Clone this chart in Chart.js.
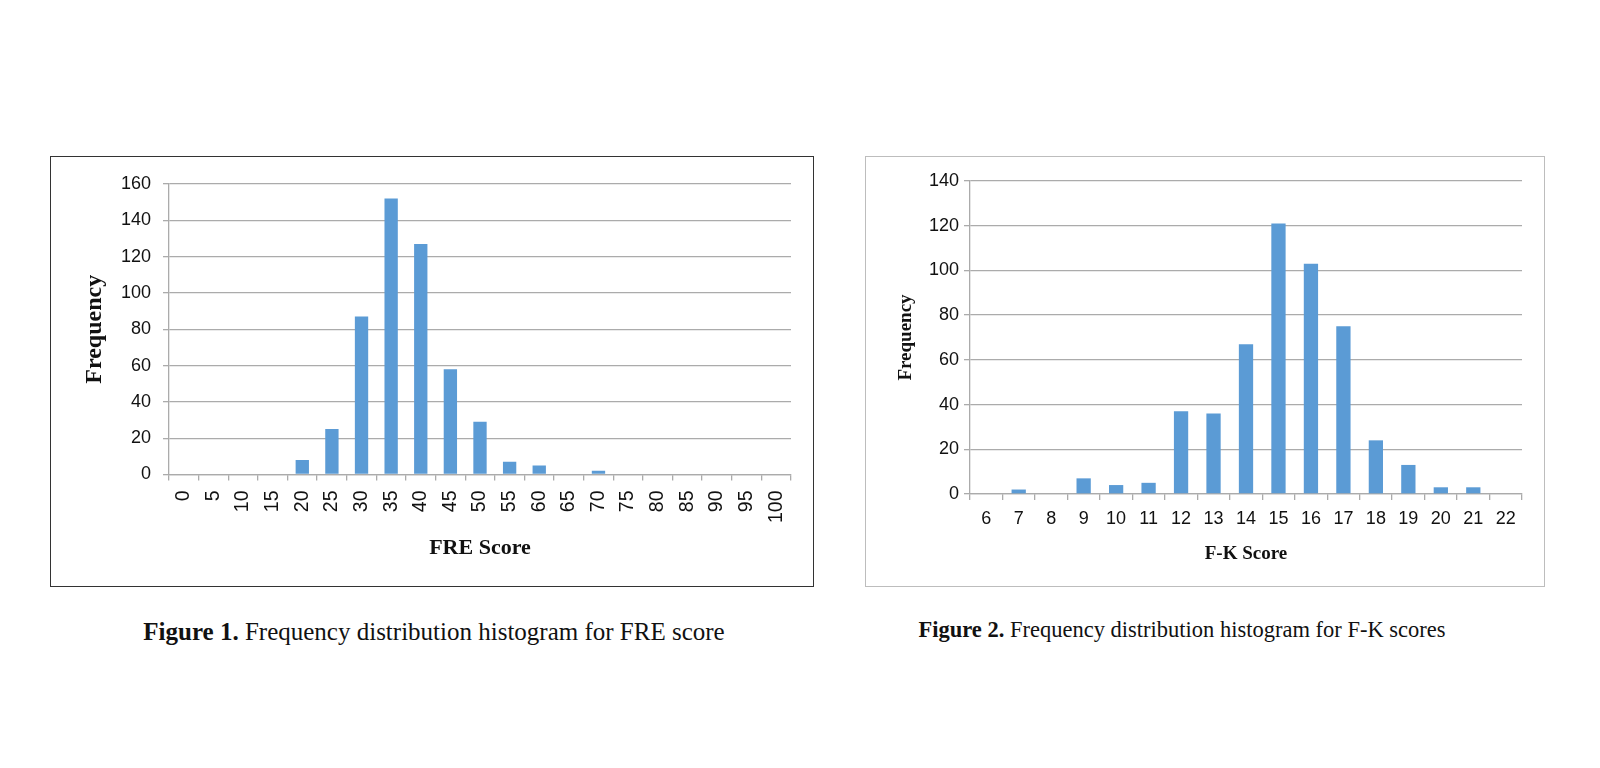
<!DOCTYPE html>
<html lang="en">
<head>
    <meta charset="UTF-8">
    <title>Frequency distribution histograms</title>
    <script src="https://cdn.jsdelivr.net/npm/chart.js@4.4.8/dist/chart.umd.min.js"></script>
    <style>
        body { margin: 0; width: 1600px; height: 768px; background: #fff; position: relative; overflow: hidden; }
        .box { position: absolute; box-sizing: border-box; background: #fff; }
        #box1 { left: 50px; top: 156px; width: 764px; height: 431px; border: 1.5px solid #333; }
        #box2 { left: 865px; top: 156px; width: 680px; height: 431px; border: 1px solid #bdbdbd; }
        .box canvas { position: absolute; left: 0; top: 0; }
        .caption { position: absolute; font-family: "Liberation Serif", "Times New Roman", serif; color: #111; white-space: nowrap; transform: translate(-50%, -50%); }
        .caption b { font-weight: bold; }
    </style>
</head>
<body>
    <div class="box" id="box1"><canvas id="fre" width="762" height="429"></canvas></div>
    <div class="box" id="box2"><canvas id="fk" width="678" height="429"></canvas></div>

    <div class="caption" style="left:434px; top:632px; font-size:25px;"><b>Figure 1.</b> Frequency distribution histogram for FRE score</div>
    <div class="caption" style="left:1182px; top:630px; font-size:22.5px;"><b>Figure 2.</b> Frequency distribution histogram for F-K scores</div>

    <script>
        // FRE score bins and counts
        const freLabels = ['0', '5', '10', '15', '20', '25', '30', '35', '40', '45', '50',
                           '55', '60', '65', '70', '75', '80', '85', '90', '95', '100'];
        const freCounts = [0, 0, 0, 0, 8, 25, 87, 152, 127, 58, 29, 7, 5, 0, 2, 0, 0, 0, 0, 0, 0];

        // F-K score bins and counts
        const fkLabels = ['6', '7', '8', '9', '10', '11', '12', '13', '14', '15', '16',
                          '17', '18', '19', '20', '21', '22'];
        const fkCounts = [0, 2, 0, 7, 4, 5, 37, 36, 67, 121, 103, 75, 24, 13, 3, 3, 0];

        const barColor = '#5b9bd5';
        const gridColor = '#ababab';
        const sans = '"Liberation Sans", Arial, sans-serif';

        function makeChart(id, labels, counts, o) {
            return new Chart(document.getElementById(id), {
                type: 'bar',
                data: {
                    labels: labels,
                    datasets: [{
                        data: counts,
                        backgroundColor: barColor,
                        borderWidth: 0,
                        barPercentage: o.barPct,
                        categoryPercentage: 1
                    }]
                },
                options: {
                    responsive: false,
                    animation: false,
                    layout: { padding: { top: o.padTop, right: o.padRight, left: 0, bottom: 0 } },
                    plugins: { legend: { display: false }, tooltip: { enabled: false } },
                    scales: {
                        x: {
                            grid: { display: true, drawOnChartArea: false, color: gridColor, tickLength: 6, lineWidth: 1.3 },
                            border: { display: true, color: gridColor, width: 1.3 },
                            ticks: { color: '#111', font: { family: sans, size: o.xTickSize }, padding: o.xTickPad,
                                     minRotation: o.rot, maxRotation: o.rot, autoSkip: false },
                            title: { display: true, text: o.xTitle, color: '#111',
                                     font: { family: '"Liberation Serif", serif', weight: 'bold', size: o.xTitleSize },
                                     padding: { top: 0, bottom: o.xTitlePad } },
                            afterFit: function(scale) { scale.height = o.xHeight; }
                        },
                        y: {
                            min: 0, max: o.yMax,
                            grid: { color: gridColor, tickLength: 6, lineWidth: 1.3 },
                            border: { display: true, color: gridColor, width: 1.3 },
                            ticks: { stepSize: 20, color: '#111', font: { family: sans, size: 18 }, padding: o.yTickPad },
                            title: { display: true, text: 'Frequency', color: '#111',
                                     font: { family: '"Liberation Serif", serif', weight: 'bold', size: o.yTitleSize },
                                     padding: { top: o.yTitlePad, bottom: 0 } },
                            afterFit: function(scale) { scale.width = o.yWidth; }
                        }
                    }
                }
            });
        }

        makeChart('fre', freLabels, freCounts, {
            barPct: 0.45, padTop: 27, padRight: 22, xHeight: 111.5, yWidth: 118,
            rot: 90, xTickSize: 19.5, xTickPad: 10, yTickPad: 12, yMax: 160,
            xTitle: 'FRE Score', xTitleSize: 22, xTitlePad: 24,
            yTitleSize: 24, yTitlePad: 29
        });

        makeChart('fk', fkLabels, fkCounts, {
            barPct: 0.44, padTop: 24, padRight: 22, xHeight: 92, yWidth: 104,
            rot: 0, xTickSize: 18, xTickPad: 8, yTickPad: 5, yMax: 140,
            xTitle: 'F-K Score', xTitleSize: 19, xTitlePad: 21,
            yTitleSize: 19, yTitlePad: 29
        });
    </script>
</body>
</html>
